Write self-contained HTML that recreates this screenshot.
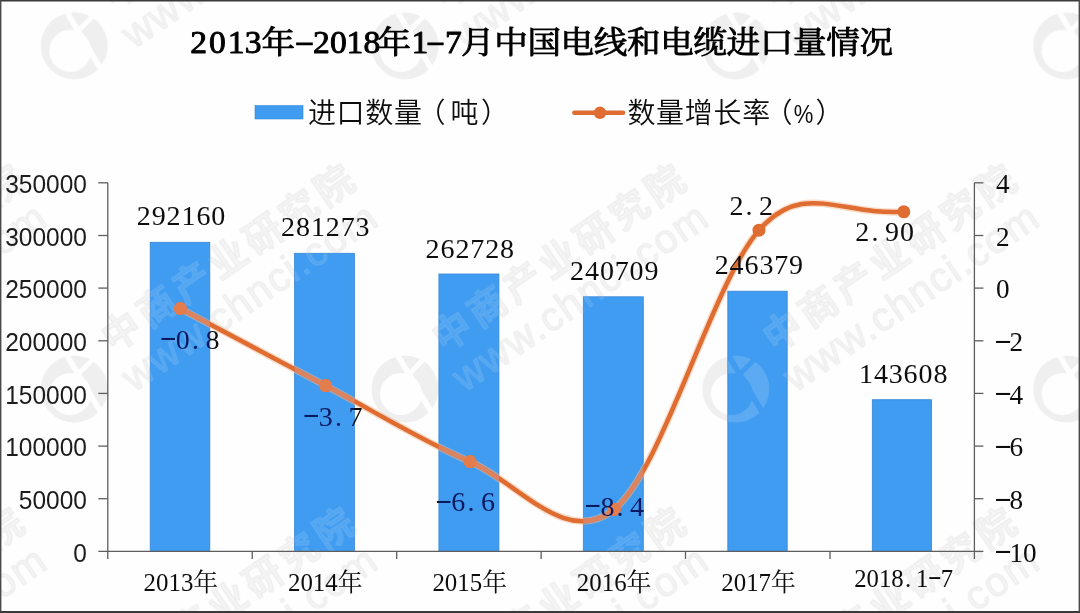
<!DOCTYPE html>
<html lang="zh-CN"><head><meta charset="utf-8"><title>2013年-2018年1-7月中国电线和电缆进口量情况</title>
<style>html,body{margin:0;padding:0;background:#fff;width:1080px;height:613px;overflow:hidden}svg{display:block}text{white-space:pre}</style></head><body>
<svg width="1080" height="613" viewBox="0 0 1080 613">
<rect x="0" y="0" width="1080" height="613" fill="#fefefe"/>
<defs><mask id="lm" maskUnits="userSpaceOnUse" x="-36" y="-36" width="72" height="72"><circle r="34" fill="#fff"/><circle cx="-4" cy="5" r="21" fill="#000"/><path d="M-7 -33 L27 24" stroke="#000" stroke-width="5.5"/><path d="M4 -15 L18 -29" stroke="#000" stroke-width="5"/></mask><filter id="wb" x="-2%" y="-2%" width="104%" height="104%"><feGaussianBlur stdDeviation="0.7"/></filter></defs>
<g font-family='"Liberation Sans", "Noto Sans CJK SC", sans-serif' filter="url(#wb)"><g transform="translate(-256.6 -297.4)"><circle r="33.5" fill="rgba(120,120,120,0.115)" mask="url(#lm)"/><g transform="rotate(-34.4)" fill="rgba(120,120,120,0.075)" stroke="rgba(120,120,120,0.07)" stroke-width="1.3"><text x="52.5" y="-8.5" font-size="38" font-weight="700" letter-spacing="5">中商产业研究院</text><text x="47" y="37" font-size="40.5" letter-spacing="1.6">www.chnci.com</text></g></g><g transform="translate(74.2 -297.4)"><circle r="33.5" fill="rgba(120,120,120,0.115)" mask="url(#lm)"/><g transform="rotate(-34.4)" fill="rgba(120,120,120,0.075)" stroke="rgba(120,120,120,0.07)" stroke-width="1.3"><text x="52.5" y="-8.5" font-size="38" font-weight="700" letter-spacing="5">中商产业研究院</text><text x="47" y="37" font-size="40.5" letter-spacing="1.6">www.chnci.com</text></g></g><g transform="translate(405.0 -297.4)"><circle r="33.5" fill="rgba(120,120,120,0.115)" mask="url(#lm)"/><g transform="rotate(-34.4)" fill="rgba(120,120,120,0.075)" stroke="rgba(120,120,120,0.07)" stroke-width="1.3"><text x="52.5" y="-8.5" font-size="38" font-weight="700" letter-spacing="5">中商产业研究院</text><text x="47" y="37" font-size="40.5" letter-spacing="1.6">www.chnci.com</text></g></g><g transform="translate(735.8 -297.4)"><circle r="33.5" fill="rgba(120,120,120,0.115)" mask="url(#lm)"/><g transform="rotate(-34.4)" fill="rgba(120,120,120,0.075)" stroke="rgba(120,120,120,0.07)" stroke-width="1.3"><text x="52.5" y="-8.5" font-size="38" font-weight="700" letter-spacing="5">中商产业研究院</text><text x="47" y="37" font-size="40.5" letter-spacing="1.6">www.chnci.com</text></g></g><g transform="translate(1066.6 -297.4)"><circle r="33.5" fill="rgba(120,120,120,0.115)" mask="url(#lm)"/><g transform="rotate(-34.4)" fill="rgba(120,120,120,0.075)" stroke="rgba(120,120,120,0.07)" stroke-width="1.3"><text x="52.5" y="-8.5" font-size="38" font-weight="700" letter-spacing="5">中商产业研究院</text><text x="47" y="37" font-size="40.5" letter-spacing="1.6">www.chnci.com</text></g></g><g transform="translate(-256.6 45.8)"><circle r="33.5" fill="rgba(120,120,120,0.115)" mask="url(#lm)"/><g transform="rotate(-34.4)" fill="rgba(120,120,120,0.075)" stroke="rgba(120,120,120,0.07)" stroke-width="1.3"><text x="52.5" y="-8.5" font-size="38" font-weight="700" letter-spacing="5">中商产业研究院</text><text x="47" y="37" font-size="40.5" letter-spacing="1.6">www.chnci.com</text></g></g><g transform="translate(74.2 45.8)"><circle r="33.5" fill="rgba(120,120,120,0.115)" mask="url(#lm)"/><g transform="rotate(-34.4)" fill="rgba(120,120,120,0.075)" stroke="rgba(120,120,120,0.07)" stroke-width="1.3"><text x="52.5" y="-8.5" font-size="38" font-weight="700" letter-spacing="5">中商产业研究院</text><text x="47" y="37" font-size="40.5" letter-spacing="1.6">www.chnci.com</text></g></g><g transform="translate(405.0 45.8)"><circle r="33.5" fill="rgba(120,120,120,0.115)" mask="url(#lm)"/><g transform="rotate(-34.4)" fill="rgba(120,120,120,0.075)" stroke="rgba(120,120,120,0.07)" stroke-width="1.3"><text x="52.5" y="-8.5" font-size="38" font-weight="700" letter-spacing="5">中商产业研究院</text><text x="47" y="37" font-size="40.5" letter-spacing="1.6">www.chnci.com</text></g></g><g transform="translate(735.8 45.8)"><circle r="33.5" fill="rgba(120,120,120,0.115)" mask="url(#lm)"/><g transform="rotate(-34.4)" fill="rgba(120,120,120,0.075)" stroke="rgba(120,120,120,0.07)" stroke-width="1.3"><text x="52.5" y="-8.5" font-size="38" font-weight="700" letter-spacing="5">中商产业研究院</text><text x="47" y="37" font-size="40.5" letter-spacing="1.6">www.chnci.com</text></g></g><g transform="translate(1066.6 45.8)"><circle r="33.5" fill="rgba(120,120,120,0.115)" mask="url(#lm)"/><g transform="rotate(-34.4)" fill="rgba(120,120,120,0.075)" stroke="rgba(120,120,120,0.07)" stroke-width="1.3"><text x="52.5" y="-8.5" font-size="38" font-weight="700" letter-spacing="5">中商产业研究院</text><text x="47" y="37" font-size="40.5" letter-spacing="1.6">www.chnci.com</text></g></g><g transform="translate(-256.6 389.0)"><circle r="33.5" fill="rgba(120,120,120,0.115)" mask="url(#lm)"/><g transform="rotate(-34.4)" fill="rgba(120,120,120,0.075)" stroke="rgba(120,120,120,0.07)" stroke-width="1.3"><text x="52.5" y="-8.5" font-size="38" font-weight="700" letter-spacing="5">中商产业研究院</text><text x="47" y="37" font-size="40.5" letter-spacing="1.6">www.chnci.com</text></g></g><g transform="translate(74.2 389.0)"><circle r="33.5" fill="rgba(120,120,120,0.115)" mask="url(#lm)"/><g transform="rotate(-34.4)" fill="rgba(120,120,120,0.075)" stroke="rgba(120,120,120,0.07)" stroke-width="1.3"><text x="52.5" y="-8.5" font-size="38" font-weight="700" letter-spacing="5">中商产业研究院</text><text x="47" y="37" font-size="40.5" letter-spacing="1.6">www.chnci.com</text></g></g><g transform="translate(405.0 389.0)"><circle r="33.5" fill="rgba(120,120,120,0.115)" mask="url(#lm)"/><g transform="rotate(-34.4)" fill="rgba(120,120,120,0.075)" stroke="rgba(120,120,120,0.07)" stroke-width="1.3"><text x="52.5" y="-8.5" font-size="38" font-weight="700" letter-spacing="5">中商产业研究院</text><text x="47" y="37" font-size="40.5" letter-spacing="1.6">www.chnci.com</text></g></g><g transform="translate(735.8 389.0)"><circle r="33.5" fill="rgba(120,120,120,0.115)" mask="url(#lm)"/><g transform="rotate(-34.4)" fill="rgba(120,120,120,0.075)" stroke="rgba(120,120,120,0.07)" stroke-width="1.3"><text x="52.5" y="-8.5" font-size="38" font-weight="700" letter-spacing="5">中商产业研究院</text><text x="47" y="37" font-size="40.5" letter-spacing="1.6">www.chnci.com</text></g></g><g transform="translate(1066.6 389.0)"><circle r="33.5" fill="rgba(120,120,120,0.115)" mask="url(#lm)"/><g transform="rotate(-34.4)" fill="rgba(120,120,120,0.075)" stroke="rgba(120,120,120,0.07)" stroke-width="1.3"><text x="52.5" y="-8.5" font-size="38" font-weight="700" letter-spacing="5">中商产业研究院</text><text x="47" y="37" font-size="40.5" letter-spacing="1.6">www.chnci.com</text></g></g><g transform="translate(-256.6 732.2)"><circle r="33.5" fill="rgba(120,120,120,0.115)" mask="url(#lm)"/><g transform="rotate(-34.4)" fill="rgba(120,120,120,0.075)" stroke="rgba(120,120,120,0.07)" stroke-width="1.3"><text x="52.5" y="-8.5" font-size="38" font-weight="700" letter-spacing="5">中商产业研究院</text><text x="47" y="37" font-size="40.5" letter-spacing="1.6">www.chnci.com</text></g></g><g transform="translate(74.2 732.2)"><circle r="33.5" fill="rgba(120,120,120,0.115)" mask="url(#lm)"/><g transform="rotate(-34.4)" fill="rgba(120,120,120,0.075)" stroke="rgba(120,120,120,0.07)" stroke-width="1.3"><text x="52.5" y="-8.5" font-size="38" font-weight="700" letter-spacing="5">中商产业研究院</text><text x="47" y="37" font-size="40.5" letter-spacing="1.6">www.chnci.com</text></g></g><g transform="translate(405.0 732.2)"><circle r="33.5" fill="rgba(120,120,120,0.115)" mask="url(#lm)"/><g transform="rotate(-34.4)" fill="rgba(120,120,120,0.075)" stroke="rgba(120,120,120,0.07)" stroke-width="1.3"><text x="52.5" y="-8.5" font-size="38" font-weight="700" letter-spacing="5">中商产业研究院</text><text x="47" y="37" font-size="40.5" letter-spacing="1.6">www.chnci.com</text></g></g><g transform="translate(735.8 732.2)"><circle r="33.5" fill="rgba(120,120,120,0.115)" mask="url(#lm)"/><g transform="rotate(-34.4)" fill="rgba(120,120,120,0.075)" stroke="rgba(120,120,120,0.07)" stroke-width="1.3"><text x="52.5" y="-8.5" font-size="38" font-weight="700" letter-spacing="5">中商产业研究院</text><text x="47" y="37" font-size="40.5" letter-spacing="1.6">www.chnci.com</text></g></g><g transform="translate(1066.6 732.2)"><circle r="33.5" fill="rgba(120,120,120,0.115)" mask="url(#lm)"/><g transform="rotate(-34.4)" fill="rgba(120,120,120,0.075)" stroke="rgba(120,120,120,0.07)" stroke-width="1.3"><text x="52.5" y="-8.5" font-size="38" font-weight="700" letter-spacing="5">中商产业研究院</text><text x="47" y="37" font-size="40.5" letter-spacing="1.6">www.chnci.com</text></g></g></g>
<g fill="#409cf0" stroke="#3886d8" stroke-width="0.8">
<rect x="150.2" y="242.3" width="59.6" height="309.1"/>
<rect x="294.6" y="253.3" width="59.8" height="298.1"/>
<rect x="438.9" y="274.0" width="60.0" height="277.4"/>
<rect x="583.3" y="296.8" width="60.0" height="254.6"/>
<rect x="727.8" y="291.2" width="59.4" height="260.2"/>
<rect x="872.3" y="399.7" width="59.3" height="151.7"/>
</g>
<clipPath id="barclip"><rect x="150.2" y="242.3" width="59.6" height="309.1"/><rect x="294.6" y="253.3" width="59.8" height="298.1"/><rect x="438.9" y="274.0" width="60.0" height="277.4"/><rect x="583.3" y="296.8" width="60.0" height="254.6"/><rect x="727.8" y="291.2" width="59.4" height="260.2"/><rect x="872.3" y="399.7" width="59.3" height="151.7"/></clipPath>
<g clip-path="url(#barclip)"><g font-family='"Liberation Sans", "Noto Sans CJK SC", sans-serif' filter="url(#wb)"><g transform="translate(-256.6 -297.4)"><circle r="33.5" fill="rgba(255,255,255,0.15)" mask="url(#lm)"/><g transform="rotate(-34.4)" fill="rgba(255,255,255,0.10)" stroke="rgba(255,255,255,0.09)" stroke-width="1.3"><text x="52.5" y="-8.5" font-size="38" font-weight="700" letter-spacing="5">中商产业研究院</text><text x="47" y="37" font-size="40.5" letter-spacing="1.6">www.chnci.com</text></g></g><g transform="translate(74.2 -297.4)"><circle r="33.5" fill="rgba(255,255,255,0.15)" mask="url(#lm)"/><g transform="rotate(-34.4)" fill="rgba(255,255,255,0.10)" stroke="rgba(255,255,255,0.09)" stroke-width="1.3"><text x="52.5" y="-8.5" font-size="38" font-weight="700" letter-spacing="5">中商产业研究院</text><text x="47" y="37" font-size="40.5" letter-spacing="1.6">www.chnci.com</text></g></g><g transform="translate(405.0 -297.4)"><circle r="33.5" fill="rgba(255,255,255,0.15)" mask="url(#lm)"/><g transform="rotate(-34.4)" fill="rgba(255,255,255,0.10)" stroke="rgba(255,255,255,0.09)" stroke-width="1.3"><text x="52.5" y="-8.5" font-size="38" font-weight="700" letter-spacing="5">中商产业研究院</text><text x="47" y="37" font-size="40.5" letter-spacing="1.6">www.chnci.com</text></g></g><g transform="translate(735.8 -297.4)"><circle r="33.5" fill="rgba(255,255,255,0.15)" mask="url(#lm)"/><g transform="rotate(-34.4)" fill="rgba(255,255,255,0.10)" stroke="rgba(255,255,255,0.09)" stroke-width="1.3"><text x="52.5" y="-8.5" font-size="38" font-weight="700" letter-spacing="5">中商产业研究院</text><text x="47" y="37" font-size="40.5" letter-spacing="1.6">www.chnci.com</text></g></g><g transform="translate(1066.6 -297.4)"><circle r="33.5" fill="rgba(255,255,255,0.15)" mask="url(#lm)"/><g transform="rotate(-34.4)" fill="rgba(255,255,255,0.10)" stroke="rgba(255,255,255,0.09)" stroke-width="1.3"><text x="52.5" y="-8.5" font-size="38" font-weight="700" letter-spacing="5">中商产业研究院</text><text x="47" y="37" font-size="40.5" letter-spacing="1.6">www.chnci.com</text></g></g><g transform="translate(-256.6 45.8)"><circle r="33.5" fill="rgba(255,255,255,0.15)" mask="url(#lm)"/><g transform="rotate(-34.4)" fill="rgba(255,255,255,0.10)" stroke="rgba(255,255,255,0.09)" stroke-width="1.3"><text x="52.5" y="-8.5" font-size="38" font-weight="700" letter-spacing="5">中商产业研究院</text><text x="47" y="37" font-size="40.5" letter-spacing="1.6">www.chnci.com</text></g></g><g transform="translate(74.2 45.8)"><circle r="33.5" fill="rgba(255,255,255,0.15)" mask="url(#lm)"/><g transform="rotate(-34.4)" fill="rgba(255,255,255,0.10)" stroke="rgba(255,255,255,0.09)" stroke-width="1.3"><text x="52.5" y="-8.5" font-size="38" font-weight="700" letter-spacing="5">中商产业研究院</text><text x="47" y="37" font-size="40.5" letter-spacing="1.6">www.chnci.com</text></g></g><g transform="translate(405.0 45.8)"><circle r="33.5" fill="rgba(255,255,255,0.15)" mask="url(#lm)"/><g transform="rotate(-34.4)" fill="rgba(255,255,255,0.10)" stroke="rgba(255,255,255,0.09)" stroke-width="1.3"><text x="52.5" y="-8.5" font-size="38" font-weight="700" letter-spacing="5">中商产业研究院</text><text x="47" y="37" font-size="40.5" letter-spacing="1.6">www.chnci.com</text></g></g><g transform="translate(735.8 45.8)"><circle r="33.5" fill="rgba(255,255,255,0.15)" mask="url(#lm)"/><g transform="rotate(-34.4)" fill="rgba(255,255,255,0.10)" stroke="rgba(255,255,255,0.09)" stroke-width="1.3"><text x="52.5" y="-8.5" font-size="38" font-weight="700" letter-spacing="5">中商产业研究院</text><text x="47" y="37" font-size="40.5" letter-spacing="1.6">www.chnci.com</text></g></g><g transform="translate(1066.6 45.8)"><circle r="33.5" fill="rgba(255,255,255,0.15)" mask="url(#lm)"/><g transform="rotate(-34.4)" fill="rgba(255,255,255,0.10)" stroke="rgba(255,255,255,0.09)" stroke-width="1.3"><text x="52.5" y="-8.5" font-size="38" font-weight="700" letter-spacing="5">中商产业研究院</text><text x="47" y="37" font-size="40.5" letter-spacing="1.6">www.chnci.com</text></g></g><g transform="translate(-256.6 389.0)"><circle r="33.5" fill="rgba(255,255,255,0.15)" mask="url(#lm)"/><g transform="rotate(-34.4)" fill="rgba(255,255,255,0.10)" stroke="rgba(255,255,255,0.09)" stroke-width="1.3"><text x="52.5" y="-8.5" font-size="38" font-weight="700" letter-spacing="5">中商产业研究院</text><text x="47" y="37" font-size="40.5" letter-spacing="1.6">www.chnci.com</text></g></g><g transform="translate(74.2 389.0)"><circle r="33.5" fill="rgba(255,255,255,0.15)" mask="url(#lm)"/><g transform="rotate(-34.4)" fill="rgba(255,255,255,0.10)" stroke="rgba(255,255,255,0.09)" stroke-width="1.3"><text x="52.5" y="-8.5" font-size="38" font-weight="700" letter-spacing="5">中商产业研究院</text><text x="47" y="37" font-size="40.5" letter-spacing="1.6">www.chnci.com</text></g></g><g transform="translate(405.0 389.0)"><circle r="33.5" fill="rgba(255,255,255,0.15)" mask="url(#lm)"/><g transform="rotate(-34.4)" fill="rgba(255,255,255,0.10)" stroke="rgba(255,255,255,0.09)" stroke-width="1.3"><text x="52.5" y="-8.5" font-size="38" font-weight="700" letter-spacing="5">中商产业研究院</text><text x="47" y="37" font-size="40.5" letter-spacing="1.6">www.chnci.com</text></g></g><g transform="translate(735.8 389.0)"><circle r="33.5" fill="rgba(255,255,255,0.15)" mask="url(#lm)"/><g transform="rotate(-34.4)" fill="rgba(255,255,255,0.10)" stroke="rgba(255,255,255,0.09)" stroke-width="1.3"><text x="52.5" y="-8.5" font-size="38" font-weight="700" letter-spacing="5">中商产业研究院</text><text x="47" y="37" font-size="40.5" letter-spacing="1.6">www.chnci.com</text></g></g><g transform="translate(1066.6 389.0)"><circle r="33.5" fill="rgba(255,255,255,0.15)" mask="url(#lm)"/><g transform="rotate(-34.4)" fill="rgba(255,255,255,0.10)" stroke="rgba(255,255,255,0.09)" stroke-width="1.3"><text x="52.5" y="-8.5" font-size="38" font-weight="700" letter-spacing="5">中商产业研究院</text><text x="47" y="37" font-size="40.5" letter-spacing="1.6">www.chnci.com</text></g></g><g transform="translate(-256.6 732.2)"><circle r="33.5" fill="rgba(255,255,255,0.15)" mask="url(#lm)"/><g transform="rotate(-34.4)" fill="rgba(255,255,255,0.10)" stroke="rgba(255,255,255,0.09)" stroke-width="1.3"><text x="52.5" y="-8.5" font-size="38" font-weight="700" letter-spacing="5">中商产业研究院</text><text x="47" y="37" font-size="40.5" letter-spacing="1.6">www.chnci.com</text></g></g><g transform="translate(74.2 732.2)"><circle r="33.5" fill="rgba(255,255,255,0.15)" mask="url(#lm)"/><g transform="rotate(-34.4)" fill="rgba(255,255,255,0.10)" stroke="rgba(255,255,255,0.09)" stroke-width="1.3"><text x="52.5" y="-8.5" font-size="38" font-weight="700" letter-spacing="5">中商产业研究院</text><text x="47" y="37" font-size="40.5" letter-spacing="1.6">www.chnci.com</text></g></g><g transform="translate(405.0 732.2)"><circle r="33.5" fill="rgba(255,255,255,0.15)" mask="url(#lm)"/><g transform="rotate(-34.4)" fill="rgba(255,255,255,0.10)" stroke="rgba(255,255,255,0.09)" stroke-width="1.3"><text x="52.5" y="-8.5" font-size="38" font-weight="700" letter-spacing="5">中商产业研究院</text><text x="47" y="37" font-size="40.5" letter-spacing="1.6">www.chnci.com</text></g></g><g transform="translate(735.8 732.2)"><circle r="33.5" fill="rgba(255,255,255,0.15)" mask="url(#lm)"/><g transform="rotate(-34.4)" fill="rgba(255,255,255,0.10)" stroke="rgba(255,255,255,0.09)" stroke-width="1.3"><text x="52.5" y="-8.5" font-size="38" font-weight="700" letter-spacing="5">中商产业研究院</text><text x="47" y="37" font-size="40.5" letter-spacing="1.6">www.chnci.com</text></g></g><g transform="translate(1066.6 732.2)"><circle r="33.5" fill="rgba(255,255,255,0.15)" mask="url(#lm)"/><g transform="rotate(-34.4)" fill="rgba(255,255,255,0.10)" stroke="rgba(255,255,255,0.09)" stroke-width="1.3"><text x="52.5" y="-8.5" font-size="38" font-weight="700" letter-spacing="5">中商产业研究院</text><text x="47" y="37" font-size="40.5" letter-spacing="1.6">www.chnci.com</text></g></g></g></g>
<g stroke="#5e5e5e" stroke-width="1.3" fill="none">
<path d="M107.8 182.8 V558.9"/>
<path d="M98.3 551.4 H974.4"/>
<path d="M974.4 182.8 V558.9"/>
<path d="M98.3 182.8 H107.8"/>
<path d="M98.3 235.5 H107.8"/>
<path d="M98.3 288.1 H107.8"/>
<path d="M98.3 340.8 H107.8"/>
<path d="M98.3 393.4 H107.8"/>
<path d="M98.3 446.1 H107.8"/>
<path d="M98.3 498.7 H107.8"/>
<path d="M974.4 182.8 H983.4"/>
<path d="M974.4 235.5 H983.4"/>
<path d="M974.4 288.1 H983.4"/>
<path d="M974.4 340.8 H983.4"/>
<path d="M974.4 393.4 H983.4"/>
<path d="M974.4 446.1 H983.4"/>
<path d="M974.4 498.7 H983.4"/>
<path d="M974.4 551.4 H983.4"/>
<path d="M252.2 551.4 V558.9"/>
<path d="M396.7 551.4 V558.9"/>
<path d="M541.1 551.4 V558.9"/>
<path d="M685.5 551.4 V558.9"/>
<path d="M830.0 551.4 V558.9"/>
</g>
<g font-family='"Liberation Sans", "Noto Sans CJK SC", sans-serif' font-size="26" fill="#1c1c1c" text-anchor="end">
<text x="86.9" y="193.0" textLength="81.7" lengthAdjust="spacingAndGlyphs">350000</text>
<text x="86.9" y="245.7" textLength="81.7" lengthAdjust="spacingAndGlyphs">300000</text>
<text x="86.9" y="298.3" textLength="81.7" lengthAdjust="spacingAndGlyphs">250000</text>
<text x="86.9" y="351.0" textLength="81.7" lengthAdjust="spacingAndGlyphs">200000</text>
<text x="86.9" y="403.6" textLength="81.7" lengthAdjust="spacingAndGlyphs">150000</text>
<text x="86.9" y="456.3" textLength="81.7" lengthAdjust="spacingAndGlyphs">100000</text>
<text x="86.9" y="508.9" textLength="68.1" lengthAdjust="spacingAndGlyphs">50000</text>
<text x="86.9" y="561.6" textLength="13.6" lengthAdjust="spacingAndGlyphs">0</text>
</g>
<text font-family='"Liberation Serif", "Noto Serif CJK SC", serif' font-size="27.2" fill="#0d0d0d"  x="995.9" y="193.0">4</text>
<text font-family='"Liberation Serif", "Noto Serif CJK SC", serif' font-size="27.2" fill="#0d0d0d"  x="995.9" y="245.7">2</text>
<text font-family='"Liberation Serif", "Noto Serif CJK SC", serif' font-size="27.2" fill="#0d0d0d"  x="995.9" y="298.3">0</text>
<text font-family='"Liberation Serif", "Noto Serif CJK SC", serif' font-size="27.2" fill="#0d0d0d"  x="993.9 1009.5" y="347.7 351.0"><tspan textLength="18.1" lengthAdjust="spacingAndGlyphs" >-</tspan>2</text>
<text font-family='"Liberation Serif", "Noto Serif CJK SC", serif' font-size="27.2" fill="#0d0d0d"  x="993.9 1009.5" y="400.4 403.6"><tspan textLength="18.1" lengthAdjust="spacingAndGlyphs" >-</tspan>4</text>
<text font-family='"Liberation Serif", "Noto Serif CJK SC", serif' font-size="27.2" fill="#0d0d0d"  x="993.9 1009.5" y="453.0 456.3"><tspan textLength="18.1" lengthAdjust="spacingAndGlyphs" >-</tspan>6</text>
<text font-family='"Liberation Serif", "Noto Serif CJK SC", serif' font-size="27.2" fill="#0d0d0d"  x="993.9 1009.5" y="505.7 508.9"><tspan textLength="18.1" lengthAdjust="spacingAndGlyphs" >-</tspan>8</text>
<text font-family='"Liberation Serif", "Noto Serif CJK SC", serif' font-size="27.2" fill="#0d0d0d"  x="993.9 1009.5 1023.1" y="558.3 561.6 561.6"><tspan textLength="18.1" lengthAdjust="spacingAndGlyphs" >-</tspan>10</text>
<text font-family='"Liberation Serif", "Noto Serif CJK SC", serif' font-size="24.9" fill="#0d0d0d"  x="143.5 156.0 168.4 180.9 193.3" y="590.9">2013年</text>
<text font-family='"Liberation Serif", "Noto Serif CJK SC", serif' font-size="24.9" fill="#0d0d0d"  x="287.9 300.4 312.8 325.3 337.7" y="590.9">2014年</text>
<text font-family='"Liberation Serif", "Noto Serif CJK SC", serif' font-size="24.9" fill="#0d0d0d"  x="432.4 444.8 457.3 469.7 482.2" y="590.9">2015年</text>
<text font-family='"Liberation Serif", "Noto Serif CJK SC", serif' font-size="24.9" fill="#0d0d0d"  x="576.8 589.3 601.7 614.2 626.6" y="590.9">2016年</text>
<text font-family='"Liberation Serif", "Noto Serif CJK SC", serif' font-size="24.9" fill="#0d0d0d"  x="721.2 733.7 746.2 758.6 771.1" y="590.9">2017年</text>
<text font-family='"Liberation Serif", "Noto Serif CJK SC", serif' font-size="24.7" fill="#0d0d0d"  x="854.2 866.6 878.9 891.3 905.1 916.0 927.7 940.7" y="587.0 587.0 587.0 587.0 587.0 587.0 584.0 587.0">2018.1<tspan textLength="14.0" lengthAdjust="spacingAndGlyphs" >-</tspan>7</text>
<path d="M180.4 308.6 C204.6 321.4 277.3 360.1 325.6 385.6 C373.9 411.1 421.9 441.0 470.0 461.6 C518.1 482.2 566.0 548.0 614.2 509.4 C662.4 470.8 711.8 283.8 759.0 230.2 C803.2 180.0 839.8 215.8 903.8 211.8" fill="none" stroke="#f5b993" stroke-width="7.2" stroke-linecap="round" stroke-linejoin="round" opacity="0.5"/>
<path d="M180.4 308.6 C204.6 321.4 277.3 360.1 325.6 385.6 C373.9 411.1 421.9 441.0 470.0 461.6 C518.1 482.2 566.0 548.0 614.2 509.4 C662.4 470.8 711.8 283.8 759.0 230.2 C803.2 180.0 839.8 215.8 903.8 211.8" fill="none" stroke="#df6c31" stroke-width="4.5" stroke-linecap="round" stroke-linejoin="round"/>
<g fill="#df6c31"><circle cx="180.4" cy="308.6" r="6.5"/><circle cx="325.6" cy="385.6" r="6.5"/><circle cx="470.0" cy="461.6" r="6.5"/><circle cx="614.2" cy="509.4" r="6.5"/><circle cx="759.0" cy="230.2" r="6.5"/><circle cx="903.8" cy="211.8" r="6.5"/></g>
<g clip-path="url(#barclip)"><path d="M180.4 308.6 C204.6 321.4 277.3 360.1 325.6 385.6 C373.9 411.1 421.9 441.0 470.0 461.6 C518.1 482.2 566.0 548.0 614.2 509.4 C662.4 470.8 711.8 283.8 759.0 230.2 C803.2 180.0 839.8 215.8 903.8 211.8" fill="none" stroke="#dc8360" stroke-width="4.7" stroke-linecap="round"/>
<g fill="#e37d4e"><circle cx="180.4" cy="308.6" r="6.5"/><circle cx="325.6" cy="385.6" r="6.5"/><circle cx="470.0" cy="461.6" r="6.5"/><circle cx="614.2" cy="509.4" r="6.5"/><circle cx="759.0" cy="230.2" r="6.5"/><circle cx="903.8" cy="211.8" r="6.5"/></g></g>
<text font-family='"Liberation Serif", "Noto Serif CJK SC", serif' font-size="28.0" fill="#0d0d0d"  x="136.8 151.7 166.6 181.5 196.4 211.3" y="224.9">292160</text>
<text font-family='"Liberation Serif", "Noto Serif CJK SC", serif' font-size="28.0" fill="#0d0d0d"  x="281.1 296.0 310.9 325.8 340.7 355.6" y="236.1">281273</text>
<text font-family='"Liberation Serif", "Noto Serif CJK SC", serif' font-size="28.0" fill="#0d0d0d"  x="425.6 440.5 455.4 470.3 485.2 500.1" y="258.4">262728</text>
<text font-family='"Liberation Serif", "Noto Serif CJK SC", serif' font-size="28.0" fill="#0d0d0d"  x="570.1 585.0 599.9 614.8 629.6 644.5" y="279.8">240709</text>
<text font-family='"Liberation Serif", "Noto Serif CJK SC", serif' font-size="28.0" fill="#0d0d0d"  x="714.7 729.6 744.5 759.4 774.2 789.1" y="273.8">246379</text>
<text font-family='"Liberation Serif", "Noto Serif CJK SC", serif' font-size="28.0" fill="#0d0d0d"  x="859.0 873.9 888.8 903.6 918.5 933.4" y="382.9">143608</text>
<defs><linearGradient id="ink" gradientUnits="userSpaceOnUse" x1="0" y1="0" x2="1080" y2="0"><stop offset="0" stop-color="#0d0d0d"/><stop offset="0.13907" stop-color="#0d0d0d"/><stop offset="0.13907" stop-color="#0a1a60"/><stop offset="0.19426" stop-color="#0a1a60"/><stop offset="0.19426" stop-color="#0d0d0d"/><stop offset="0.27278" stop-color="#0d0d0d"/><stop offset="0.27278" stop-color="#0a1a60"/><stop offset="0.32815" stop-color="#0a1a60"/><stop offset="0.32815" stop-color="#0d0d0d"/><stop offset="0.40639" stop-color="#0d0d0d"/><stop offset="0.40639" stop-color="#0a1a60"/><stop offset="0.46194" stop-color="#0a1a60"/><stop offset="0.46194" stop-color="#0d0d0d"/><stop offset="0.54009" stop-color="#0d0d0d"/><stop offset="0.54009" stop-color="#0a1a60"/><stop offset="0.59565" stop-color="#0a1a60"/><stop offset="0.59565" stop-color="#0d0d0d"/><stop offset="0.67389" stop-color="#0d0d0d"/><stop offset="0.67389" stop-color="#0a1a60"/><stop offset="0.72889" stop-color="#0a1a60"/><stop offset="0.72889" stop-color="#0d0d0d"/><stop offset="0.80769" stop-color="#0d0d0d"/><stop offset="0.80769" stop-color="#0a1a60"/><stop offset="0.86259" stop-color="#0a1a60"/><stop offset="0.86259" stop-color="#0d0d0d"/></linearGradient></defs>
<text font-family='"Liberation Serif", "Noto Serif CJK SC", serif' font-size="28.0" fill="url(#ink)"  x="159.4 175.8 192.0 205.6" y="345.1 348.5 348.5 348.5"><tspan textLength="17.4" lengthAdjust="spacingAndGlyphs" >-</tspan>0.8</text>
<text font-family='"Liberation Serif", "Noto Serif CJK SC", serif' font-size="28.0" fill="url(#ink)"  x="302.4 318.7 335.0 348.5" y="422.4 425.8 425.8 425.8"><tspan textLength="17.4" lengthAdjust="spacingAndGlyphs" >-</tspan>3.7</text>
<text font-family='"Liberation Serif", "Noto Serif CJK SC", serif' font-size="28.0" fill="url(#ink)"  x="434.9 451.2 467.5 481.0" y="507.6 511.0 511.0 511.0"><tspan textLength="17.4" lengthAdjust="spacingAndGlyphs" >-</tspan>6.6</text>
<text font-family='"Liberation Serif", "Noto Serif CJK SC", serif' font-size="28.0" fill="url(#ink)"  x="584.0 600.4 616.6 630.1" y="512.4 515.8 515.8 515.8"><tspan textLength="17.4" lengthAdjust="spacingAndGlyphs" >-</tspan>8.4</text>
<text font-family='"Liberation Serif", "Noto Serif CJK SC", serif' font-size="28.0" fill="#0d0d0d"  x="729.4 745.6 759.1" y="215.4">2.2</text>
<text font-family='"Liberation Serif", "Noto Serif CJK SC", serif' font-size="28.0" fill="#0d0d0d"  x="855.2 871.4 885.0 899.9" y="241.1">2.90</text>
<g transform="scale(1 0.92)"><text font-family='"Liberation Serif", "Noto Serif CJK SC", serif' font-size="33.6" fill="#000" stroke="#000" stroke-width="0.95" stroke-linejoin="round" x="190.2 209.1 227.7 244.7 261.5 294.0 312.9 329.9 346.5 363.5 377.5 411.5 425.6 445.0 461.0 494.2 527.4 560.6 593.8 627.0 660.2 693.4 726.6 759.8 793.0 826.2 859.4" y="58.0 58.0 58.0 58.0 57.8 55.6 58.0 58.0 58.0 58.0 57.8 58.0 55.6 58.0 57.8 57.8 57.8 57.8 57.8 57.8 57.8 57.8 57.8 57.8 57.8 57.8 57.8">2013年<tspan stroke-width="0.3" textLength="20.8" lengthAdjust="spacingAndGlyphs">-</tspan>2018年1<tspan stroke-width="0.3" textLength="20.0" lengthAdjust="spacingAndGlyphs">-</tspan>7月中国电线和电缆进口量情况</text></g>
<rect x="255" y="105.6" width="48" height="13.4" fill="#409cf0" stroke="#3886d8" stroke-width="0.6"/>
<text font-family='"Liberation Sans", "Noto Sans CJK SC", sans-serif' font-size="28" font-weight="350" fill="#0d0d0d" x="307.9 336.6 365.3 394.0 417.4 450.4 480.9" y="123.3">进口数量（吨）</text>
<path d="M574.4 112.8 H623" stroke="#df6c31" stroke-width="4.6" stroke-linecap="round"/>
<circle cx="600" cy="112.8" r="6.2" fill="#df6c31"/>
<text font-family='"Liberation Sans", "Noto Sans CJK SC", sans-serif' font-size="28" font-weight="350" fill="#0d0d0d" x="627.4 656.1 684.8 713.5 742.2 764.6 793.8 815.4" y="123.3">数量增长率（<tspan font-size="25.5" textLength="19.6" lengthAdjust="spacingAndGlyphs">%</tspan>）</text>
<path d="M0 0.7 H1080" stroke="#3a3a3a" stroke-width="1.4"/>
<path d="M0.7 0 V613" stroke="#4a4a4a" stroke-width="1.4"/>
<path d="M1079.3 0 V613" stroke="#4a4a4a" stroke-width="1.4"/>
<path d="M0 612 H1080" stroke="#3a3a3a" stroke-width="2"/>
</svg></body></html>
